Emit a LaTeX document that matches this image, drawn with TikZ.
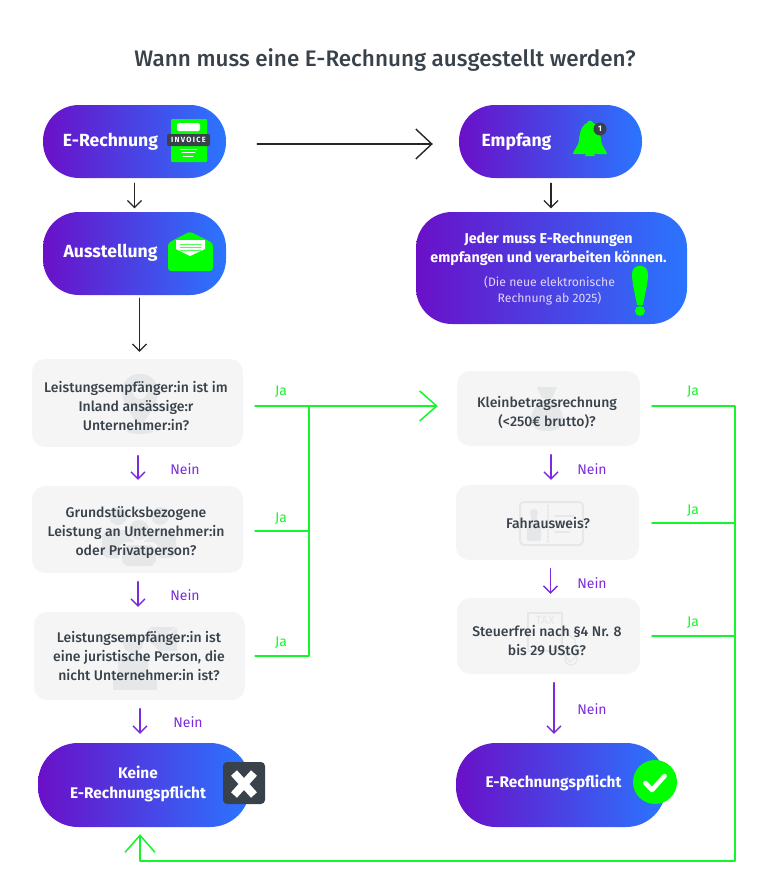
\documentclass[tikz,border=0pt]{standalone}
\usepackage{fontspec}
\setmainfont{Fira Sans}
\newfontfamily\medfont{Fira Sans Medium}
\usetikzlibrary{arrows.meta}
\definecolor{inkdark}{HTML}{39424B}
\definecolor{pillleft}{HTML}{6A10C8}
\definecolor{pillright}{HTML}{2A75FF}
\definecolor{boxgrey}{HTML}{F5F5F5}
\definecolor{markgrey}{HTML}{E6E7E8}
\definecolor{neinpurple}{HTML}{7A2BDD}
\definecolor{jagreen}{HTML}{14F52C}
\definecolor{icongreen}{HTML}{00FF00}
\tikzset{
	pill/.style={rectangle, inner sep=0pt, rounded corners=#1, left color=pillleft, right color=pillright},
	qbox/.style={rectangle, inner sep=0pt, rounded corners=13pt, fill=boxgrey},
	pilltext/.style={text=white, font=\fontsize{17.6}{20}\selectfont\bfseries},
	smalltext/.style={text=white, align=center, font=\fontsize{14.3}{19.5}\selectfont\bfseries},
	endtext/.style={text=white, align=center, font=\fontsize{15.4}{20}\selectfont\bfseries},
	qtext/.style={text=inkdark, align=center, font=\fontsize{14}{19}\selectfont\medfont},
	blackarrow/.style={draw=black!85, line width=1.2pt, -{Straight Barb[length=7pt,width=14pt]}},
	bigarrow/.style={draw=black!85, line width=1.4pt, -{Straight Barb[length=16pt,width=30pt]}},
	neinarrow/.style={draw=neinpurple, line width=1.3pt, -{Straight Barb[length=7pt,width=14pt]}},
	jaline/.style={draw=jagreen, line width=1.5pt},
	jaarrow/.style={jaline, -{Straight Barb[length=17pt,width=30pt]}},
	neinlabel/.style={text=neinpurple, font=\fontsize{14}{15}\selectfont},
	jalabel/.style={text=jagreen, font=\fontsize{14}{15}\selectfont},
}
\begin{document}
\begin{tikzpicture}[x=1pt, y=-1pt, line join=round, line cap=round]
	\useasboundingbox (0,0) rectangle (768,883);
	\node[text=inkdark, font=\fontsize{22.45}{28}\selectfont\medfont] (title) at (385,60.5) {Wann muss eine E-Rechnung ausgestellt werden?};
	\foreach \n/\x/\y/\w/\h/\r in {erech/134.5/141.5/183/73/36,ausst/134.5/253.5/183/83/36,empf/550.5/141.5/183/73/36,jeder/551.5/268/271/112/36,keine/144/785/212/84/40,pflicht/561/785/210/84/40}
		\node[pill=\r pt, minimum width=\w, minimum height=\h] (\n) at (\x,\y) {};
	\foreach \n/\x/\y/\w/\h in {q1/137.5/403/211/88,q2/137.5/529.5/211/87,q3/139.5/656/211/88,r1/548.5/408.5/183/75,r2/547.5/522.5/183/75,r3/548.5/636/183/76}
		\node[qbox, minimum width=\w, minimum height=\h] (\n) at (\x,\y) {};
	\fill[markgrey] (140,374) .. controls (128,374) and (122,383) .. (122,392) .. controls (122,404) and (134,418) .. (140,428) .. controls (146,418) and (158,404) .. (158,392) .. controls (158,383) and (152,374) .. (140,374);
	\fill[boxgrey] (140,392) circle(7);
	\fill[markgrey] (140,431) ellipse(13 and 3);
	\foreach \x in {118,160} {
		\fill[markgrey] (\x,516) circle(9);
		\fill[markgrey, rounded corners=7pt] (\x-16,558) rectangle (\x+16,530);}
	\fill[boxgrey] (139,530) circle(12);
	\fill[markgrey] (139,530) circle(10);
	\fill[boxgrey, rounded corners=8pt] (119,566) rectangle (159,542);
	\fill[markgrey, rounded corners=7pt] (122,566) rectangle (156,545);
	\fill[markgrey] (133,643) circle(10);
	\fill[markgrey, rounded corners=6pt] (118,680) rectangle (148,656);
	\fill[markgrey] (113,680) rectangle (157,690);
	\fill[markgrey] (148,627) -- (177,627) -- (177,651) -- (160,651) -- (148,640) -- cycle;
	\draw[boxgrey, line width=1pt] (148,627) -- (163,638) -- (177,627);
	\fill[markgrey] (537,387) -- (557,387) -- (552,398) -- (542,398) -- cycle;
	\fill[markgrey] (547,398) .. controls (535,404) and (531,412) .. (531,420) .. controls (531,428) and (538,431) .. (547,431) .. controls (556,431) and (563,428) .. (563,420) .. controls (563,412) and (559,404) .. (547,398);
	\draw[markgrey, line width=2pt, rounded corners=4pt] (520,502) rectangle (583,545);
	\draw[markgrey, line width=1.5pt, dotted] (548,505) -- (548,543);
	\fill[markgrey] (534,513) circle(4);
	\fill[markgrey] (531,516) rectangle (537,526);
	\fill[markgrey, rounded corners=2pt] (527,526) rectangle (541,541);
	\foreach \y/\xx in {516/574,523/570,532/569}
		\draw[markgrey, line width=2pt] (555,\y) -- (\xx,\y);
	\draw[markgrey, line width=1.2pt] (528,613) rectangle (562,651);
	\node[text=markgrey, font=\fontsize{12}{14}\selectfont] (taxmark) at (545,620) {TAX};
	\draw[markgrey, line width=1.2pt] (562,628) -- (575,640) -- (577,656) -- (570,662) -- (562,652);
	\draw[markgrey, line width=1.2pt] (571,659) circle(6);
	\fill[icongreen, rounded corners=1pt] (171,119) rectangle (207,162);
	\fill[white, rounded corners=2pt] (177,123) rectangle (200,131);
	\node[fill=inkdark, rounded corners=2pt, minimum width=43, minimum height=12, inner sep=0pt, text=white, font=\fontsize{7.5}{8}\selectfont\bfseries] (invoice) at (188.5,140) {I\,N\,V\,O\,I\,C\,E};
	\foreach \y/\a/\b in {149/180/197,152/182/195,156/183/193}
		\draw[white, line width=.9pt] (\a,\y) -- (\b,\y);
	\fill[icongreen, rounded corners=3pt] (168,243) -- (190,231.5) -- (213,243) -- (213,271) -- (168,271) -- cycle;
	\fill[white] (176,240) -- (205,240) -- (205,249) -- (190,256) -- (176,249) -- cycle;
	\foreach \y in {244,247,250}
		\draw[icongreen!70!white, line width=.5pt] (180,\y) -- (201,\y);
	\fill[icongreen] (573,154) .. controls (573,150) and (578,148) .. (579,140) .. controls (580,128) and (584,124) .. (587,123) .. controls (587,120) and (593,120) .. (593,123) .. controls (597,124) and (600,130) .. (601,140) .. controls (602,148) and (607,150) .. (607,154) -- cycle;
	\fill[icongreen] (585,156) arc[start angle=180, end angle=0, x radius=5, y radius=-4] -- cycle;
	\node[circle, fill=inkdark, minimum size=13, inner sep=0pt, text=white, font=\fontsize{8}{9}\selectfont\bfseries] (badge) at (600,129) {1};
	\fill[icongreen] (632,274) .. controls (632,263) and (648,263) .. (648,274) .. controls (648,284) and (644,298) .. (643,305) -- (637,305) .. controls (636,298) and (632,284) .. (632,274);
	\fill[icongreen] (640,311) circle(5);
	\fill[inkdark, rounded corners=4pt] (223,762) rectangle (265,804);
	\draw[white, line width=8pt, line cap=butt] (234,773) -- (254,795) (254,773) -- (234,795);
	\node[circle, fill=icongreen, minimum size=44, inner sep=0pt] (okmark) at (655,782) {};
	\draw[white, line width=4.6pt] (645.5,783) -- (652,790) -- (664.5,776);
	\node[pilltext] (terech) at (110.5,142) {E-Rechnung};
	\node[pilltext] (tausst) at (110.5,253) {Ausstellung};
	\node[pilltext] (tempf) at (516.5,142) {Empfang};
	\node[smalltext] (tjeder) at (548.5,249) {Jeder muss E-Rechnungen\\empfangen und verarbeiten können.};
	\node[text=white!82!pillleft, align=center, font=\fontsize{12.2}{16}\selectfont] (tsub) at (549.5,291) {(Die neue elektronische\\Rechnung ab 2025)};
	\node[qtext] (tq1) at (136,406) {Leistungsempfänger:in ist im\\Inland ansässige:r\\Unternehmer:in?};
	\node[qtext] (tq2) at (136,533) {Grundstücksbezogene\\Leistung an Unternehmer:in\\oder Privatperson?};
	\node[qtext] (tq3) at (139,656) {Leistungsempfänger:in ist\\eine juristische Person, die\\nicht Unternehmer:in ist?};
	\node[qtext] (tr1) at (547,412) {Kleinbetragsrechnung\\(<250€ brutto)?};
	\node[qtext] (tr2) at (548,523.5) {Fahrausweis?};
	\node[qtext] (tr3) at (547,641) {Steuerfrei nach §4 Nr. 8\\bis 29 UStG?};
	\node[endtext] (tkeine) at (138,784) {Keine\\E-Rechnungspflicht};
	\node[endtext] (tpflicht) at (553.5,783) {E-Rechnungspflicht};
	\draw[blackarrow, shorten <=5pt, shorten >=3.5pt] (erech.south) -- (ausst.north);
	\draw[blackarrow, shorten <=3pt, shorten >=7pt] ([xshift=5pt]ausst.south) -- ([xshift=5pt]ausst.south |- q1.north);
	\draw[bigarrow, shorten <=31pt, shorten >=26pt] ([yshift=-2.5pt]erech.east) -- ([yshift=-2.5pt]empf.west);
	\draw[blackarrow, shorten <=5pt, shorten >=3.5pt] ([xshift=.5pt]empf.south) -- ([xshift=.5pt]empf.south |- jeder.north);
	\foreach \a/\b/\s/\e/\lx/\ly in {q1/q2/.5/6/185/469,q2/q3/.5/5/185/595,q3/keine/.5/9/188/722,r1/r2/2.5/5/592/469,r2/r3/3/4/592/583,r3/pflicht/5.5/9/592/709} {
		\draw[neinarrow, shorten <=8.5pt, shorten >=\e pt] ([xshift=\s pt]\a.south) -- ([xshift=\s pt]\a.south |- \b.north);
		\node[neinlabel] (n\a) at (\lx,\ly) {Nein};}
	\foreach \n/\x/\y/\lx/\ly in {q1/255/406/281/392,q2/255/531/281/519,q3/255/656/281/643,r1/652/406/693/392,r2/652/523/693/511,r3/652/636/693/623} {
		\coordinate (j\n) at (\x,\y);
		\node[jalabel] (l\n) at (\lx,\ly) {Ja};}
	\coordinate (busL) at (309,656);
	\coordinate (busR) at (735,861);
	\draw[jaarrow, shorten >=19pt] (jq1) -- (jq1 -| r1.west);
	\draw[jaline] (jq1 -| busL) -- (busL) -- (jq3);
	\draw[jaline] (jq2) -- (jq2 -| busL);
	\draw[jaline] (jr2) -- (jr2 -| busR) (jr3) -- (jr3 -| busR);
	\draw[jaarrow, shorten >=7pt] (jr1) -- (jr1 -| busR) -- (busR) -- ([xshift=-4pt]busR -| keine.south) -- ([xshift=-4pt]keine.south);
\end{tikzpicture}
\end{document}
